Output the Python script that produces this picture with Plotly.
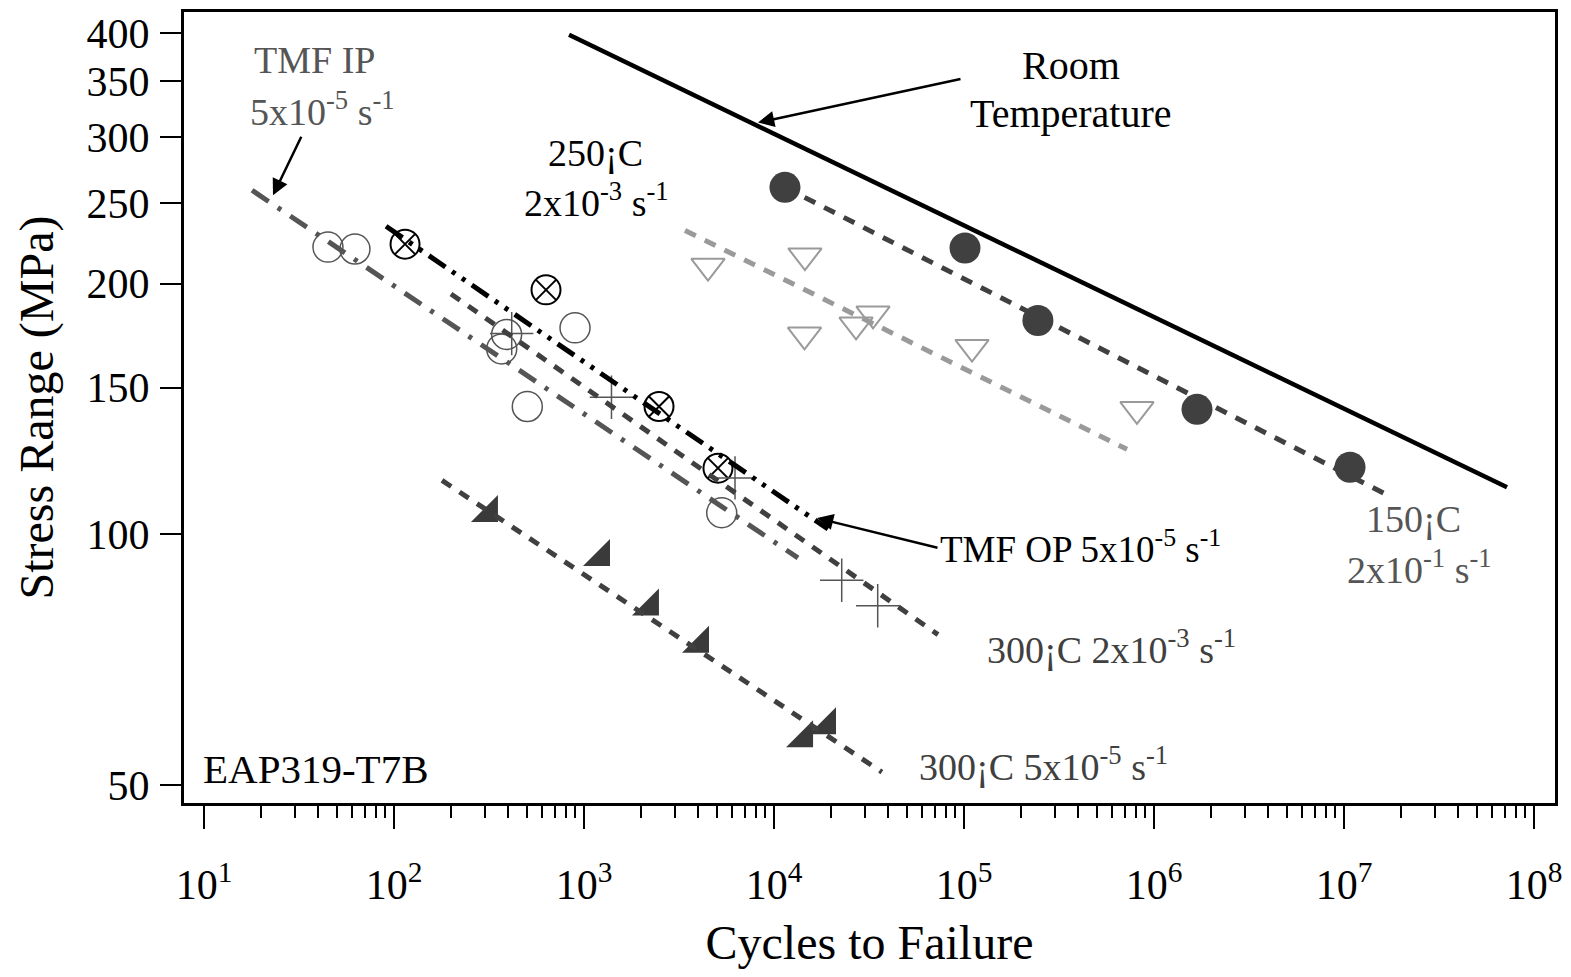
import plotly.graph_objects as go

# ---- S-N data for EAP319-T7B (cycles to failure, stress range in MPa) ----

# Room temperature curve
rt_cycles = [834, 7.21e7]
rt_stress = [397.9, 113.9]

# 150 C, 2x10^-1 s^-1
c150_cycles = [11420, 101200, 244900, 1.684e6, 1.0755e7]
c150_stress = [261.0, 220.7, 180.6, 141.3, 120.4]
c150_fit_cycles = [11420, 1.704e7]
c150_fit_stress = [261.0, 111.4]

# 250 C, 2x10^-3 s^-1
c250_cycles = [4494, 14550, 14470, 27020, 33190, 110200, 813600]
c250_stress = [210.0, 216.1, 173.6, 178.5, 184.0, 167.8, 141.3]
c250_fit_cycles = [3401, 721000]
c250_fit_stress = [231.7, 126.5]

# TMF in-phase, 5x10^-5 s^-1
ip_cycles = [44.9, 62.3, 391.5, 368.8, 896.8, 503, 5305]
ip_stress = [221.3, 220.1, 173.8, 167.0, 177.0, 142.4, 106.2]
ip_fit_cycles = [17.9, 13370]
ip_fit_stress = [258.9, 93.7]

# TMF out-of-phase, 5x10^-5 s^-1
op_cycles = [114.3, 631, 2482, 5070]
op_stress = [223.1, 196.6, 142.4, 120.1]
op_fit_cycles = [90.8, 19230]
op_fit_stress = [234.4, 101.5]

# 300 C, 2x10^-3 s^-1
c300f_cycles = [416.4, 1395, 6233, 22720, 35140]
c300f_stress = [174.2, 146.1, 116.9, 88.1, 82.1]
c300f_fit_cycles = [199.5, 72950]
c300f_fit_stress = [194.4, 75.8]

# 300 C, 5x10^-5 s^-1
c300s_cycles = [316, 1229, 2223, 4079, 14390, 19010]
c300s_stress = [106.1, 93.96, 81.9, 73.9, 56.9, 59.0]
c300s_fit_cycles = [178.9, 36980]
c300s_fit_stress = [116.1, 51.84]

x_tickvals = [10 ** e for e in range(1, 9)]
x_ticktext = [f"10<sup>{e}</sup>" for e in range(1, 9)]
x_minorvals = [k * 10 ** e for e in range(1, 8) for k in range(2, 10)]
y_tickvals = [50, 100, 150, 200, 250, 300, 350, 400]

FONT = "Liberation Serif"
DARK = "#404040"
MID = "#555555"
LIGHT = "#9a9a9a"

fig = go.Figure()

# markers first, fitted lines drawn over them
fig.add_trace(go.Scatter(x=ip_cycles, y=ip_stress, mode="markers",
                         marker=dict(symbol="circle-open", size=30, color=MID,
                                     line=dict(width=1.5, color=MID))))
fig.add_trace(go.Scatter(x=op_cycles, y=op_stress, mode="markers",
                         marker=dict(symbol="circle-x-open", size=29, color="black",
                                     line=dict(width=2, color="black"))))
fig.add_trace(go.Scatter(x=c300f_cycles, y=c300f_stress, mode="markers",
                         marker=dict(symbol="cross-thin-open", size=31, color=MID,
                                     line=dict(width=1.5, color=MID))))
fig.add_trace(go.Scatter(x=c250_cycles, y=c250_stress, mode="markers",
                         marker=dict(symbol="triangle-down-open", size=29, color=LIGHT,
                                     line=dict(width=2, color=LIGHT))))
fig.add_trace(go.Scatter(x=c150_cycles, y=c150_stress, mode="markers",
                         marker=dict(symbol="circle", size=31, color=DARK,
                                     line=dict(width=0))))
fig.add_trace(go.Scatter(x=c300s_cycles, y=c300s_stress, mode="markers",
                         marker=dict(symbol="triangle-se", size=30, color="#3a3a3a",
                                     line=dict(width=0))))

# fitted curves
fig.add_trace(go.Scatter(x=rt_cycles, y=rt_stress, mode="lines",
                         line=dict(color="black", width=4.5)))
fig.add_trace(go.Scatter(x=c150_fit_cycles, y=c150_fit_stress, mode="lines",
                         line=dict(color=DARK, width=5, dash="12px,10px")))
fig.add_trace(go.Scatter(x=c250_fit_cycles, y=c250_fit_stress, mode="lines",
                         line=dict(color=LIGHT, width=5, dash="12px,10px")))
fig.add_trace(go.Scatter(x=ip_fit_cycles, y=ip_fit_stress, mode="lines",
                         line=dict(color=MID, width=5, dash="20px,11px,4px,11px")))
fig.add_trace(go.Scatter(x=op_fit_cycles, y=op_fit_stress, mode="lines",
                         line=dict(color="black", width=5,
                                   dash="20px,8px,4px,8px,4px,8px")))
fig.add_trace(go.Scatter(x=c300f_fit_cycles, y=c300f_fit_stress, mode="lines",
                         line=dict(color=DARK, width=5, dash="11px,10px")))
fig.add_trace(go.Scatter(x=c300s_fit_cycles, y=c300s_fit_stress, mode="lines",
                         line=dict(color=DARK, width=5, dash="11px,10px")))

L, R, T, B = 184, 1555, 9, 803
W, H = 1571, 977


def pos(px, py):
    return dict(x=(px - L) / (R - L), y=(B - py) / (B - T), xref="paper", yref="paper")


def label(px, py, text, color="black", xanchor="center", size=38):
    fig.add_annotation(**pos(px, py), text=text, showarrow=False, xanchor=xanchor,
                       yanchor="middle", font=dict(family=FONT, size=size, color=color))


def arrow(hx, hy, tx, ty):
    fig.add_annotation(**pos(hx, hy), text="", showarrow=True, ax=tx - hx, ay=ty - hy,
                       arrowhead=2, arrowsize=1.3, arrowwidth=2.5, arrowcolor="black")


sup = lambda s: f"<sup>{s}</sup>"

label(314, 57, "TMF IP", MID)
label(322, 106, f"5x10{sup('-5')} s{sup('-1')}", MID)
arrow(273, 193, 302, 133)

label(1071, 63, "Room", size=40)
label(1071, 111, "Temperature", size=40)
arrow(758, 120, 962, 76)

label(595, 151, "250¡C")
label(596, 198, f"2x10{sup('-3')} s{sup('-1')}")

label(938, 546, f"TMF OP 5x10{sup('-5')} s{sup('-1')}", xanchor="left", size=37)
arrow(817, 517, 939, 547)

label(1413, 518, "150¡C", MID)
label(1419, 566, f"2x10{sup('-1')} s{sup('-1')}", MID)

label(985, 646, f"300¡C 2x10{sup('-3')} s{sup('-1')}", DARK, xanchor="left")
label(917, 764, f"300¡C 5x10{sup('-5')} s{sup('-1')}", DARK, xanchor="left")

label(201, 769, "EAP319-T7B", xanchor="left", size=41)

axis_common = dict(showgrid=False, zeroline=False, showline=True, linecolor="black",
                   linewidth=3, mirror=True, ticks="outside", tickcolor="black",
                   tickwidth=2, tickfont=dict(family=FONT, size=42, color="black"))

fig.update_xaxes(type="log", range=[0.8947, 8.1105], tickvals=x_tickvals,
                 ticktext=x_ticktext, ticklen=23, ticklabelstandoff=20,
                 minor=dict(tickvals=x_minorvals, ticks="outside", ticklen=12,
                            tickwidth=2, tickcolor="black"),
                 title=dict(text="Cycles to Failure", font=dict(family=FONT, size=48),
                            standoff=18),
                 **axis_common)
fig.update_yaxes(type="log", range=[1.6775, 2.6272], tickvals=y_tickvals,
                 ticktext=[str(v) for v in y_tickvals], ticklen=21, ticklabelstandoff=2,
                 title=dict(text="Stress Range (MPa)", font=dict(family=FONT, size=48),
                            standoff=18),
                 **axis_common)

fig.update_layout(width=W, height=H, margin=dict(l=L, r=W - R, t=T, b=H - B),
                  plot_bgcolor="white", paper_bgcolor="white", showlegend=False,
                  font=dict(family=FONT, color="black"))

fig.write_html("out.html")
